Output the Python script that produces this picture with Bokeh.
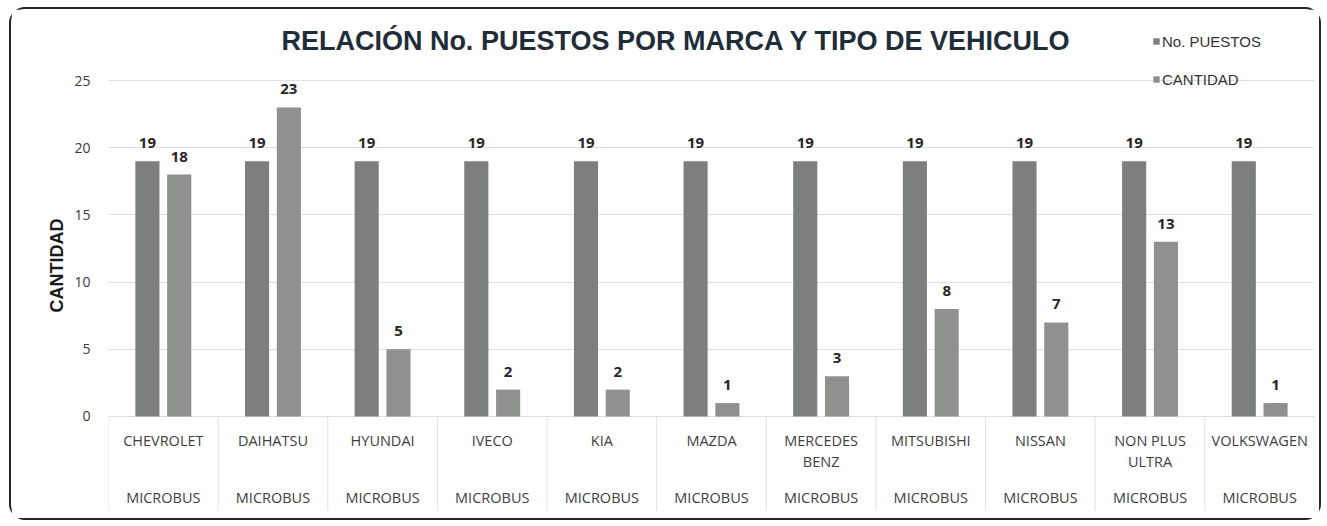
import numpy as np
from bokeh.plotting import figure
from bokeh.models import (ColumnDataSource, Range1d, FixedTicker, Label, Legend, LegendItem)
from bokeh.core.properties import value
from bokeh.embed import file_html
from bokeh.resources import INLINE

# ---- data ----
brands = ["CHEVROLET", "DAIHATSU", "HYUNDAI", "IVECO", "KIA", "MAZDA",
          "MERCEDES\nBENZ", "MITSUBISHI", "NISSAN", "NON PLUS\nULTRA", "VOLKSWAGEN"]
vehicle_type = ["MICROBUS"] * 11
no_puestos = [19, 19, 19, 19, 19, 19, 19, 19, 19, 19, 19]
cantidad = [18, 23, 5, 2, 2, 1, 3, 8, 7, 13, 1]
y_ticks = [0, 5, 10, 15, 20, 25]
series_names = ["No. PUESTOS", "CANTIDAD"]
title_text = "RELACIÓN No. PUESTOS POR MARCA Y TIPO DE VEHICULO"
y_title = "CANTIDAD"

# ---- styling ----
W, H = 1312, 513
c1, c2 = "#7c7f7d", "#8e918e"
idx = np.arange(len(brands))
bw = 0.22
off = 0.145

p = figure(width=W, height=H, output_backend="svg", toolbar_location=None,
           x_range=Range1d(-0.5, len(brands) - 0.5), y_range=Range1d(-7.07, 29.54),
           min_border_left=97, min_border_right=9, min_border_top=10, min_border_bottom=11)
p.styles = {"border": "2px solid #262626", "border-radius": "16px",
            "margin-left": "9px", "margin-top": "7px"}
p.outline_line_color = None
p.background_fill_color = "white"
p.border_fill_color = "white"

src = ColumnDataSource(dict(x1=idx - off, x2=idx + off, a=no_puestos, b=cantidad,
                            la=[str(v) for v in no_puestos], lb=[str(v) for v in cantidad]))

r1 = p.vbar(x="x1", top="a", bottom=0, width=bw, source=src, fill_color=c1, line_color=None)
r2 = p.vbar(x="x2", top="b", bottom=0, width=bw, source=src, fill_color=c2, line_color=None)

lbl_font = value("Open Sans")
p.text(x="x1", y="a", text="la", source=src, text_align="center", text_baseline="middle",
       y_offset=-18, text_font=lbl_font, text_font_size="15px", text_font_style="bold",
       text_color="#262626")
p.text(x="x2", y="b", text="lb", source=src, text_align="center", text_baseline="middle",
       y_offset=-18, text_font=lbl_font, text_font_size="15px", text_font_style="bold",
       text_color="#262626")

# axes
p.xaxis.visible = False
p.xgrid.visible = False
p.yaxis.ticker = FixedTicker(ticks=y_ticks)
p.yaxis.axis_line_color = None
p.yaxis.major_tick_line_color = None
p.yaxis.minor_tick_line_color = None
p.yaxis.major_label_standoff = 12
p.yaxis.major_label_text_font = "Open Sans"
p.yaxis.major_label_text_font_size = "14px"
p.yaxis.major_label_text_color = "#3a3a3a"
p.yaxis.axis_label = y_title
p.yaxis.axis_label_text_font = "Liberation Sans"
p.yaxis.axis_label_text_font_style = "bold"
p.yaxis.axis_label_text_font_size = "18px"
p.yaxis.axis_label_text_color = "#1a1a1a"
p.yaxis.axis_label_standoff = 4
p.ygrid.ticker = FixedTicker(ticks=y_ticks)
p.ygrid.grid_line_color = "#dedede"

# category table below the axis
tsrc = ColumnDataSource(dict(x=idx, brand=brands, vt=vehicle_type))
sep = np.arange(len(brands) + 1) - 0.5
p.segment(x0=sep, x1=sep, y0=[0] * len(sep), y1=[-7.0] * len(sep), line_color="#e2e2e2",
          line_width=1)
p.text(x="x", y=-1.1, text="brand", source=tsrc, text_align="center", text_baseline="top",
       text_font=lbl_font, text_font_size="14.5px", text_color="#404040",
       text_line_height=1.1)
p.text(x="x", y=-6.03, text="vt", source=tsrc, text_align="center", text_baseline="middle",
       text_font=lbl_font, text_font_size="14.5px", text_color="#404040")

# title
p.add_layout(Label(x=4.68, y=27.95, text=title_text, text_align="center",
                   text_baseline="middle", text_font="Liberation Sans",
                   text_font_style="bold", text_font_size="27px", text_color="#1f2d3a"))

legend = Legend(items=[LegendItem(label=series_names[0], renderers=[r1]),
                       LegendItem(label=series_names[1], renderers=[r2])],
                location=(1044, 422), orientation="vertical",
                glyph_width=8, glyph_height=8, label_standoff=2, spacing=18,
                padding=0, margin=0, border_line_color=None, background_fill_alpha=0,
                label_text_font="Liberation Sans", label_text_font_size="15px",
                label_text_color="#333333", label_height=20)
p.add_layout(legend)

open("out.html", "w").write(file_html(p, INLINE))
